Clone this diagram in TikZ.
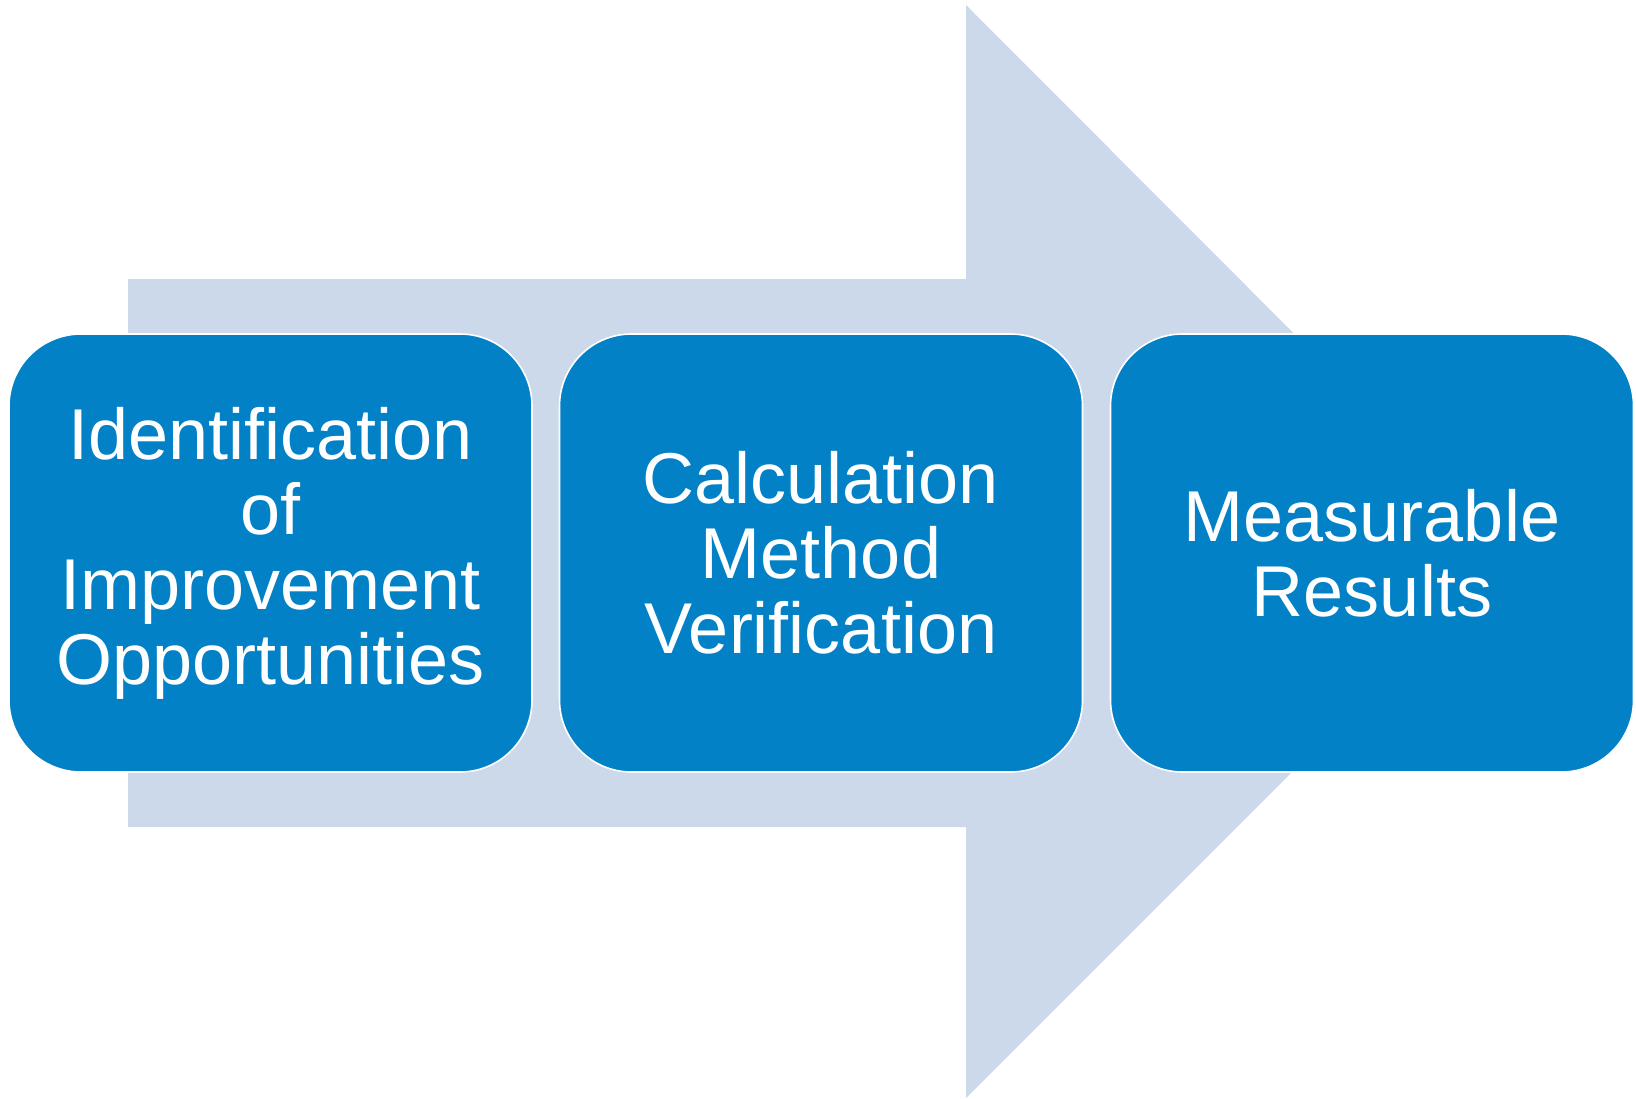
\documentclass[tikz,border=0pt]{standalone}
\usepackage{fontspec}
\setmainfont{Liberation Sans}
\usepackage{xcolor}
\usepackage{tikz}
\definecolor{stageblue}{HTML}{0281C6}
\definecolor{arrowgray}{HTML}{CCD9EA}

\begin{document}
\begin{tikzpicture}[x=0.5pt,y=-0.5pt,
    stage/.style={draw=white,line width=0.8pt,fill=stageblue,rounded corners=36pt,
        minimum width=261.5pt,minimum height=219pt,text=white,align=center,
        text width=250pt,font=\fontsize{36}{37.5}\selectfont}]
    \useasboundingbox (0,0) rectangle (1636,1098);
    \fill[arrowgray] (128,279) -- (966,279) -- (966,5) -- (1512,552)
        -- (966,1098) -- (966,827) -- (128,827) -- cycle;
    \node[stage] (ident) at (270.5,553) {Identification\\of\\Improvement\\Opportunities};
    \node[stage] (calc) at (821,553) {Calculation\\Method\\Verification};
    \node[stage] (meas) at (1372,553) {Measurable\\Results};
\end{tikzpicture}
\end{document}
